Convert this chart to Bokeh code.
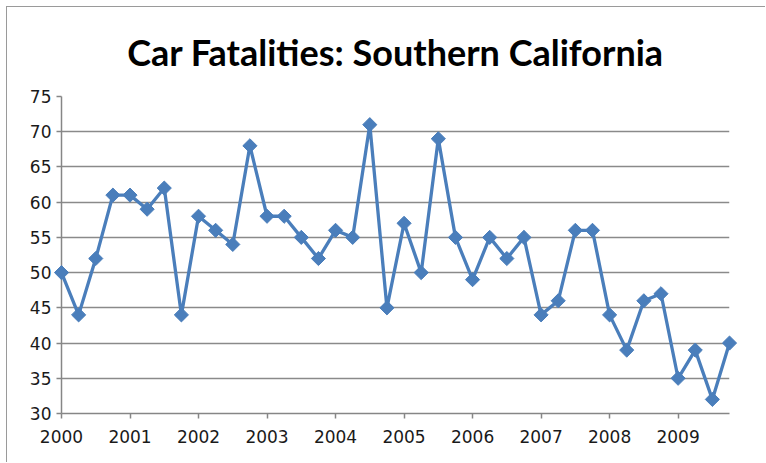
import math
from bokeh.plotting import figure
from bokeh.models import Range1d, FixedTicker
from bokeh.embed import file_html
from bokeh.resources import INLINE

years = [2000, 2001, 2002, 2003, 2004, 2005, 2006, 2007, 2008, 2009]
quarter_offsets = [0.0, 0.25, 0.5, 0.75]
fatalities = [
    50, 44, 52, 61,
    61, 59, 62, 44,
    58, 56, 54, 68,
    58, 58, 55, 52,
    56, 55, 71, 45,
    57, 50, 69, 55,
    49, 55, 52, 55,
    44, 46, 56, 56,
    44, 39, 46, 47,
    35, 39, 32, 40,
]
y_ticks = [30, 35, 40, 45, 50, 55, 60, 65, 70, 75]

x = [yr + q for yr in years for q in quarter_offsets]

p = figure(width=759, height=456, output_backend="svg", toolbar_location=None,
           x_range=Range1d(2000, 2009.75), y_range=Range1d(30, 75),
           min_border_left=54, min_border_right=37, min_border_bottom=50, min_border_top=89)

p.title.text = "Car Fatalities: Southern California"
p.title.text_font = "Lato"
p.title.text_font_size = "36px"
p.title.text_font_style = "bold"
p.title.align = "center"
p.title.vertical_align = "top"
p.title.text_color = "#000000"
p.title.standoff = 42

p.outline_line_color = None
p.background_fill_color = "white"

p.xaxis.ticker = FixedTicker(ticks=years)
p.yaxis.ticker = FixedTicker(ticks=y_ticks)
for ax in (p.xaxis, p.yaxis):
    ax.axis_line_color = "#868686"
    ax.axis_line_width = 1.5
    ax.major_tick_line_color = "#868686"
    ax.major_tick_line_width = 1.5
    ax.major_tick_out = 5
    ax.major_tick_in = 0
    ax.minor_tick_line_color = None
    ax.major_label_text_font = "DejaVu Sans"
    ax.major_label_text_font_size = "17px"
    ax.major_label_text_color = "#1a1a1a"
p.xaxis.major_label_standoff = 11
p.yaxis.major_label_standoff = 5

p.xgrid.grid_line_color = None
p.ygrid.grid_line_color = "#8a8a8a"
p.ygrid.grid_line_width = 1.5

color = "#4A7EBB"
p.line(x, fatalities, line_color=color, line_width=3.3, level="overlay")
p.scatter(x, fatalities, marker="square", size=10, angle=math.pi / 4,
          fill_color=color, line_color=color, level="overlay")

p.styles = {"border-top": "1.5px solid #9a9a9a", "border-left": "1.5px solid #9a9a9a",
            "margin-left": "6px", "margin-top": "6px"}

open("out.html", "w").write(file_html(p, INLINE))
